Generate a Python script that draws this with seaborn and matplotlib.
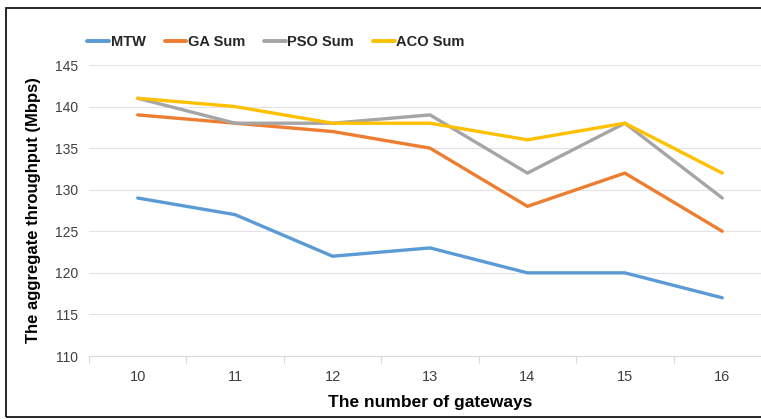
import matplotlib
matplotlib.use("Agg")
import matplotlib.pyplot as plt
import seaborn as sns
import pandas as pd
from matplotlib.patches import Rectangle

gateways = [10, 11, 12, 13, 14, 15, 16]
mtw = [129, 127, 122, 123, 120, 120, 117]
ga_sum = [139, 138, 137, 135, 128, 132, 125]
pso_sum = [141, 138, 138, 139, 132, 138, 129]
aco_sum = [141, 140, 138, 138, 136, 138, 132]
series_names = ["MTW", "GA Sum", "PSO Sum", "ACO Sum"]
colors = ["#5B9BD5", "#ED7D31", "#A5A5A5", "#FFC000"]
y_ticks = [110, 115, 120, 125, 130, 135, 140, 145]

rows = []
for name, vals in zip(series_names, [mtw, ga_sum, pso_sum, aco_sum]):
    for g, v in zip(gateways, vals):
        rows.append({"Gateways": g, "Throughput": v, "Series": name})
df = pd.DataFrame(rows)

sns.set_theme(style="white")
narrow = ["Liberation Sans Narrow", "Liberation Sans", "DejaVu Sans"]
plt.rcParams["font.family"] = narrow

fig = plt.figure(figsize=(7.61, 4.19), dpi=100)
ax = fig.add_axes([89 / 761, 1 - 356 / 419, (771 - 89) / 761, (356 - 65) / 419])

sns.lineplot(data=df, x="Gateways", y="Throughput", hue="Series",
             hue_order=series_names, palette=colors, linewidth=2.4,
             ax=ax, legend=True)

ax.set_xlim(9.5, 16.5)
ax.set_ylim(110, 145)
ax.set_yticks(y_ticks)
ax.set_xticks(gateways)
ax.set_xticks([9.5 + i for i in range(8)], minor=True)
ax.grid(axis="y", color="#E2E2E8", linewidth=0.8)
ax.set_axisbelow(True)
for s in ["top", "right", "left"]:
    ax.spines[s].set_visible(False)
ax.spines["bottom"].set_color("#D9D9D9")
ax.spines["bottom"].set_linewidth(0.8)
ax.tick_params(axis="x", which="major", length=0, pad=10, labelsize=10.5, colors="#404040")
ax.tick_params(axis="x", which="minor", length=5, color="#D9D9D9", width=0.8, bottom=True)
ax.tick_params(axis="y", length=0, pad=8, labelsize=10, colors="#404040")

ax.set_xlabel("The number of gateways", fontsize=12.5, fontweight="bold", color="black", labelpad=8)
ax.set_ylabel("The aggregate throughput (Mbps)", fontsize=12, fontweight="bold",
              color="black", labelpad=10, family=["Liberation Sans", "DejaVu Sans"])

handles, labels = ax.get_legend_handles_labels()
leg = fig.legend(handles, labels, loc="center", bbox_to_anchor=(276 / 761, 1 - 42 / 419),
                 ncol=4, frameon=False, prop={"weight": "bold", "size": 10.5},
                 handlelength=1.5, columnspacing=1.3, handletextpad=0.1)
for line in leg.get_lines():
    line.set_linewidth(2.8)
if ax.get_legend():
    ax.get_legend().remove()

fig.patches.append(Rectangle((6 / 761, 1 - 417 / 419), 1.2, (417 - 8) / 419,
                             transform=fig.transFigure, fill=False,
                             edgecolor="black", linewidth=1.2, figure=fig))

fig.savefig("out.png", dpi=100)
